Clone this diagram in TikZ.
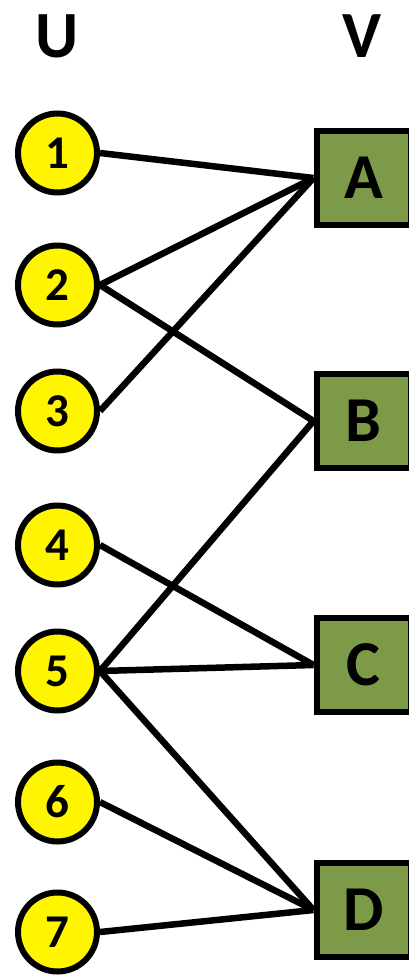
\documentclass[tikz,border=0pt]{standalone}
\usepackage{fontspec}
\setmainfont{Carlito}
\usetikzlibrary{backgrounds}
\definecolor{vfill}{RGB}{124,154,72}
\definecolor{ufill}{RGB}{255,245,0}
\begin{document}
\begin{tikzpicture}[x=1pt,y=-1pt,
  unode/.style={circle,draw=black,line width=6pt,fill=ufill,minimum size=79pt,inner sep=0pt,font=\fontsize{47}{47}\selectfont\bfseries},
  vnode/.style={rectangle,draw=black,line width=6pt,fill=vfill,minimum size=94pt,inner sep=0pt,font=\fontsize{64}{64}\selectfont\bfseries},
  head/.style={font=\fontsize{66}{66}\selectfont\bfseries,inner sep=0pt},
  edge/.style={draw=black,line width=6.5pt}]
\useasboundingbox (0,0) rectangle (409,976);
\clip (0,0) rectangle (409,976);
% column headings
\node[head] (hu) at (57,36) {U};
\node[head] (hv) at (362,36) {V};
% left vertex set
\node[unode] (u1) at (57.5,153) {1};
\node[unode] (u2) at (57.5,285) {2};
\node[unode] (u3) at (57.5,411) {3};
\node[unode] (u4) at (57.5,545) {4};
\node[unode] (u5) at (57.5,671) {5};
\node[unode] (u6) at (57.5,802) {6};
\node[unode] (u7) at (57.5,932) {7};
% right vertex set
\node[vnode] (vA) at (363.5,178) {A};
\node[vnode] (vB) at (363.5,421) {B};
\node[vnode] (vC) at (363.5,665) {C};
\node[vnode] (vD) at (363.5,910) {D};
% edges, kept behind the vertices
\begin{scope}[on background layer]
\fill[white] (0,0) rectangle (409,976);
\draw[edge] (u1.east) -- (vA.west);
\draw[edge] (u2.east) -- (vA.west);
\draw[edge] (u3.east) -- (vA.west);
\draw[edge] (u2.east) -- (vB.west);
\draw[edge] (u5.east) -- (vB.west);
\draw[edge] (u4.east) -- (vC.west);
\draw[edge] (u5.east) -- (vC.west);
\draw[edge] (u5.east) -- (vD.west);
\draw[edge] (u6.east) -- (vD.west);
\draw[edge] (u7.east) -- (vD.west);
\end{scope}
\end{tikzpicture}
\end{document}
